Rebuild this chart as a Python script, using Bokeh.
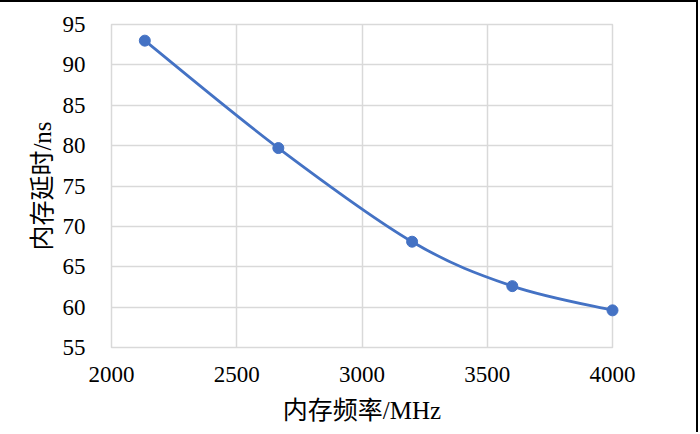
from bokeh.plotting import figure
from bokeh.models import Range1d, FixedTicker
from bokeh.embed import file_html
from bokeh.resources import INLINE

# Data
freq_mhz = [2133, 2666, 3200, 3600, 4000]
latency_ns = [93.0, 79.7, 68.1, 62.6, 59.6]
x_ticks = [2000, 2500, 3000, 3500, 4000]
y_ticks = [55, 60, 65, 70, 75, 80, 85, 90, 95]
x_label = "内存频率/MHz"
y_label = "内存延时/ns"

BLUE = "#4472C4"
GRID = "#d9d9d9"
FONT = "Liberation Serif, Noto Sans CJK SC"

p = figure(width=698, height=432, output_backend="svg", toolbar_location=None,
           x_range=Range1d(2000, 4000), y_range=Range1d(55, 95))
p.styles = {"border-top": "2px solid black", "border-right": "2px solid black"}
p.min_border_left = 111
p.min_border_right = 86
p.min_border_top = 22
p.min_border_bottom = 87
p.background_fill_color = "white"
p.border_fill_color = "white"
p.outline_line_color = GRID
p.outline_line_width = 1.5

# Excel-like smoothed curve via cubic Bezier segments (Catmull-Rom control points)
n = len(freq_mhz)
x0, y0, x1, y1, cx0, cy0, cx1, cy1 = ([] for _ in range(8))
for i in range(n - 1):
    pm = max(i - 1, 0)
    pp = min(i + 2, n - 1)
    xa, ya = freq_mhz[i], latency_ns[i]
    xb, yb = freq_mhz[i + 1], latency_ns[i + 1]
    x0.append(xa); y0.append(ya); x1.append(xb); y1.append(yb)
    cx0.append(xa + (xb - freq_mhz[pm]) / 6.0)
    cy0.append(ya + (yb - latency_ns[pm]) / 6.0)
    cx1.append(xb - (freq_mhz[pp] - xa) / 6.0)
    cy1.append(yb - (latency_ns[pp] - ya) / 6.0)

p.bezier(x0=x0, y0=y0, x1=x1, y1=y1, cx0=cx0, cy0=cy0, cx1=cx1, cy1=cy1,
         line_color=BLUE, line_width=2.8)
pts = p.scatter(freq_mhz, latency_ns, size=11, color=BLUE)
pts.level = "overlay"

p.xaxis.ticker = FixedTicker(ticks=x_ticks)
p.yaxis.ticker = FixedTicker(ticks=y_ticks)
p.xgrid.ticker = FixedTicker(ticks=x_ticks)
p.ygrid.ticker = FixedTicker(ticks=y_ticks)
p.grid.grid_line_color = GRID
p.grid.grid_line_width = 1.5

for ax in (p.xaxis[0], p.yaxis[0]):
    ax.axis_line_color = None
    ax.major_tick_line_color = None
    ax.minor_tick_line_color = None
    ax.major_label_text_font = FONT
    ax.major_label_text_font_size = "23px"
    ax.major_label_text_color = "black"
    ax.axis_label_text_font = FONT
    ax.axis_label_text_font_size = "25px"
    ax.axis_label_text_font_style = "normal"
    ax.axis_label_text_color = "black"

p.xaxis.axis_label = x_label
p.yaxis.axis_label = y_label
p.xaxis.major_label_standoff = 13
p.yaxis.major_label_standoff = 20
p.xaxis.axis_label_standoff = 12
p.yaxis.axis_label_standoff = 4

open("out.html", "w").write(file_html(p, INLINE))
